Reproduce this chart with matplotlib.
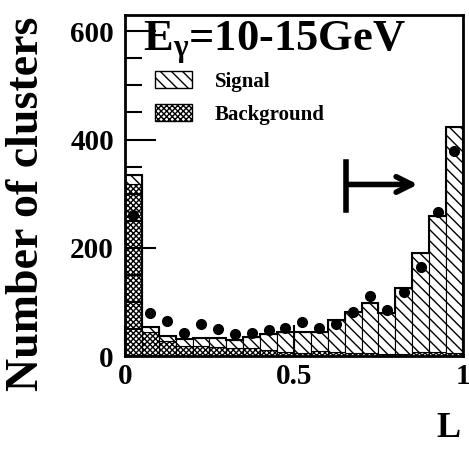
import numpy as np
import matplotlib
matplotlib.use("Agg")
import matplotlib.pyplot as plt
from matplotlib.patches import Patch

plt.rcParams['font.family'] = ['Liberation Serif', 'DejaVu Serif']
plt.rcParams['font.weight'] = 'bold'
plt.rcParams['mathtext.fontset'] = 'custom'
plt.rcParams['mathtext.rm'] = 'Liberation Serif:bold'
plt.rcParams['mathtext.it'] = 'Liberation Serif:bold'
plt.rcParams['hatch.linewidth'] = 1.0

# histogram contents (20 bins of L between 0 and 1)
background = [317, 45, 27, 18, 18, 17, 14, 14, 12, 8, 5, 10, 8, 6, 5, 4, 4, 8, 8, 6]
signal = [18, 8, 10, 14, 16, 16, 16, 22, 28, 36, 40, 35, 59, 76, 93, 75, 121, 182, 250, 417]
data_points = [261, 79, 65, 43, 59, 50, 40, 43, 48, 51, 62, 51, 60, 82, 110, 85, 119, 165, 267, 378]

edges = np.linspace(0, 1, len(signal) + 1)
centers = (edges[:-1] + edges[1:]) / 2
width = edges[1] - edges[0]

fig = plt.figure(figsize=(4.69, 4.51), dpi=100)
ax = fig.add_axes([0.2665, 0.2106, 0.7205, 0.756])

ax.bar(edges[:-1], background, width=width, align='edge', facecolor='white',
       edgecolor='black', hatch='xxxxxx', linewidth=0.8)
ax.bar(edges[:-1], signal, width=width, bottom=background, align='edge',
       facecolor='white', edgecolor='black', hatch='\\\\\\', linewidth=0.8)
total = np.array(background) + np.array(signal)
ax.stairs(total, edges, color='black', linewidth=1.5)
ax.plot(centers, data_points, 'o', color='black', markersize=7)

# cut arrow
ax.plot([0.654, 0.654], [270, 359], color='black', linewidth=4)
ax.annotate('', xy=(0.875, 317), xytext=(0.654, 317),
            arrowprops=dict(arrowstyle='->', lw=4, mutation_scale=28, color='black'))

ax.text(0.053, 563, r'$\mathrm{E}_{\gamma}$=10-15GeV', fontsize=32, fontweight='bold')

handles = [Patch(facecolor='white', edgecolor='black', hatch='\\\\\\', label='Signal'),
           Patch(facecolor='white', edgecolor='black', hatch='xxxxxx', label='Background')]
ax.legend(handles=handles, loc='upper left', bbox_to_anchor=(0.089, 0.835),
          frameon=False, fontsize=15, borderpad=0, borderaxespad=0,
          handlelength=1.75, handleheight=0.85, handletextpad=1.1, labelspacing=0.6)

ax.set_xlim(0, 1)
ax.set_ylim(0, 630)
ax.set_xticks([0, 0.5, 1])
ax.set_xticklabels(['0', '0.5', '1'])
ax.set_yticks([0, 200, 400, 600])
ax.set_yticks(np.arange(0, 630, 50), minor=True)
ax.tick_params(axis='both', which='major', direction='in', length=22, width=1.5,
               labelsize=21, pad=5)
ax.tick_params(axis='y', which='minor', direction='in', length=12, width=1.5)
ax.tick_params(axis='y', which='major', pad=8)
for lbl in ax.get_xticklabels() + ax.get_yticklabels():
    lbl.set_fontweight('bold')
for s in ax.spines.values():
    s.set_linewidth(2)

ax.set_ylabel('Number of clusters', fontsize=33, fontweight='bold')
ax.yaxis.set_label_coords(-0.228, 0.446)
ax.set_xlabel('L', fontsize=26, fontweight='bold')
ax.xaxis.set_label_coords(0.956, -0.165)

fig.savefig('out.png', dpi=100)
